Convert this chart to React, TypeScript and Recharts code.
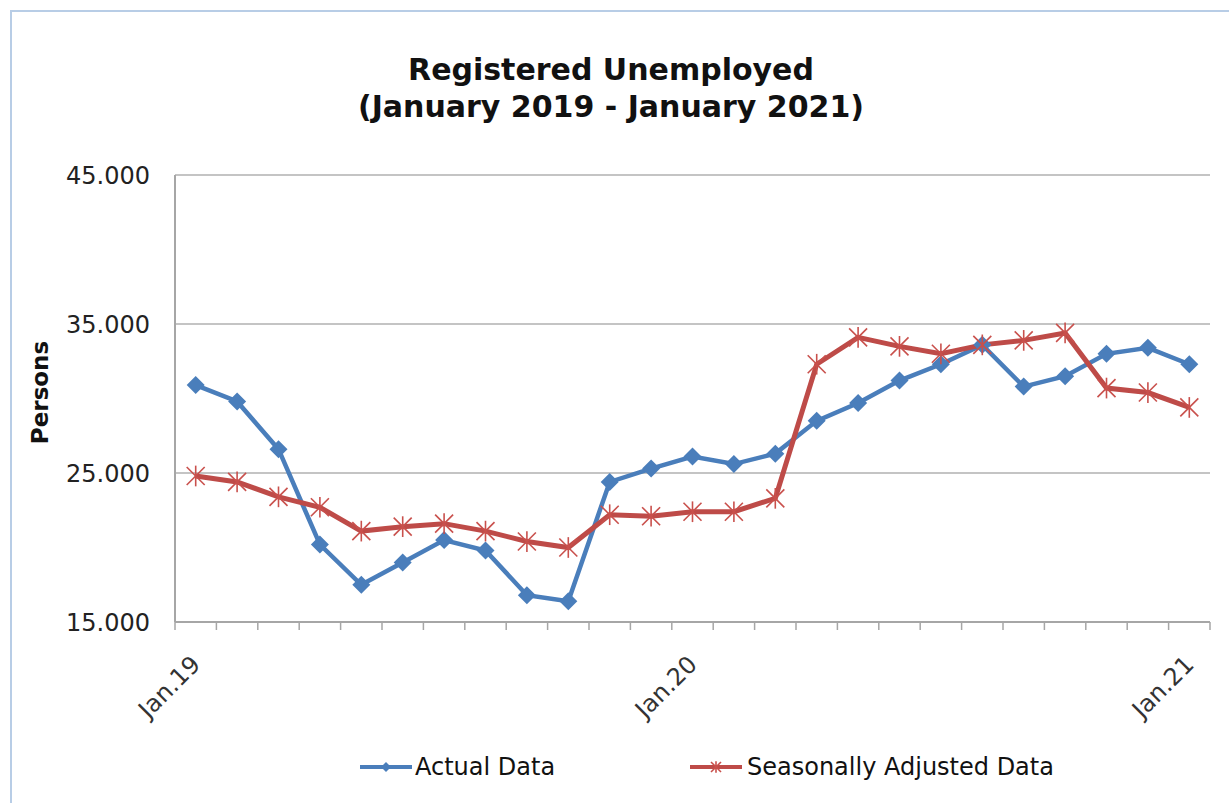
import React from 'react';
import { LineChart, Line, XAxis, YAxis, CartesianGrid, Label } from 'recharts';

const months = [
  'Jan.19', 'Feb.19', 'Mar.19', 'Apr.19', 'May.19', 'Jun.19', 'Jul.19', 'Aug.19', 'Sep.19', 'Oct.19', 'Nov.19', 'Dec.19',
  'Jan.20', 'Feb.20', 'Mar.20', 'Apr.20', 'May.20', 'Jun.20', 'Jul.20', 'Aug.20', 'Sep.20', 'Oct.20', 'Nov.20', 'Dec.20',
  'Jan.21',
];
const actualData = [
  30900, 29800, 26600, 20200, 17500, 19000, 20500, 19800, 16800, 16400, 24400, 25300,
  26100, 25600, 26300, 28500, 29700, 31200, 32300, 33600, 30800, 31500, 33000, 33400,
  32300,
];
const adjustedData = [
  24800, 24400, 23400, 22700, 21100, 21400, 21600, 21100, 20400, 20000, 22200, 22100,
  22400, 22400, 23300, 32300, 34100, 33500, 33000, 33600, 33900, 34400, 30700, 30400,
  29400,
];
const shownMonthLabels = ['Jan.19', 'Jan.20', 'Jan.21'];
const yTicks = [15000, 25000, 35000, 45000];
const seriesNames = ['Actual Data', 'Seasonally Adjusted Data'];
const titleLines = ['Registered Unemployed', '(January 2019 - January 2021)'];

const data = months.map((m, i) => ({ month: m, actual: actualData[i], adjusted: adjustedData[i] }));

const BLUE = '#4a7ebb';
const RED = '#be4b48';
const GRID = '#c4c4c4';
const AXIS = '#a6a6a6';
const FONT = '"DejaVu Sans", Verdana, sans-serif';

const fmt = (v: number) => v.toLocaleString('de-DE', { minimumFractionDigits: 0 }).replace(/,/g, '.');

const Diamond = (props: any) => {
  const { cx, cy, r = 9, fill = BLUE } = props;
  if (cx == null || cy == null) return null;
  return <polygon points={`${cx},${cy - r} ${cx + r},${cy} ${cx},${cy + r} ${cx - r},${cy}`} fill={fill} />;
};

const Star = (props: any) => {
  const { cx, cy, r = 9, stroke = '#c9504c', sw = 1.6 } = props;
  if (cx == null || cy == null) return null;
  return (
    <g stroke={stroke} strokeWidth={sw}>
      <line x1={cx - r} y1={cy - r} x2={cx + r} y2={cy + r} />
      <line x1={cx - r} y1={cy + r} x2={cx + r} y2={cy - r} />
      <line x1={cx} y1={cy - r * 1.15} x2={cx} y2={cy + r * 1.15} />
    </g>
  );
};

const XTick = (props: any) => {
  const { x, y, payload, index, width, visibleTicksCount } = props;
  const count = visibleTicksCount || months.length;
  const step = width && count ? width / count : 41.4;
  const left = x - step / 2;
  const isLast = index === count - 1;
  const show = shownMonthLabels.includes(payload.value);
  return (
    <g>
      <line x1={left} y1={y} x2={left} y2={y + 8} stroke={AXIS} strokeWidth={1.5} />
      {isLast && <line x1={x + step / 2} y1={y} x2={x + step / 2} y2={y + 8} stroke={AXIS} strokeWidth={1.5} />}
      {show && (
        <text
          x={x + 6}
          y={y + 44}
          textAnchor="end"
          transform={`rotate(-45, ${x + 6}, ${y + 44})`}
          fontFamily={FONT}
          fontSize={24}
          fill="#333"
        >
          {payload.value}
        </text>
      )}
    </g>
  );
};

export default function App() {
  return (
    <div style={{ position: 'absolute', left: 0, top: 0, width: 1229, height: 803, overflow: 'hidden', background: '#fff' }}>
      <div
        style={{
          position: 'absolute', left: 10, top: 10, width: 1300, height: 900,
          border: '2px solid #b8cde6', boxSizing: 'border-box',
        }}
      />
      <div
        style={{
          position: 'absolute', left: 0, top: 51, width: 1222, textAlign: 'center',
          fontFamily: FONT, fontWeight: 'bold', fontSize: 30, lineHeight: '37px', color: '#111',
        }}
      >
        {titleLines.map((t) => (
          <div key={t}>{t}</div>
        ))}
      </div>
      <div style={{ position: 'absolute', left: 0, top: 0 }}>
        <LineChart width={1229} height={803} data={data} margin={{ top: 175, right: 19, bottom: 121, left: 0 }}>
          <CartesianGrid vertical={false} stroke={GRID} strokeWidth={2} />
          <XAxis
            dataKey="month"
            scale="band"
            interval={0}
            height={60}
            tickLine={false}
            tickSize={0}
            tickMargin={0}
            axisLine={{ stroke: AXIS, strokeWidth: 2 }}
            tick={<XTick />}
          />
          <YAxis
            width={175}
            domain={[15000, 45000]}
            ticks={yTicks}
            interval={0}
            tickLine={false}
            tickSize={0}
            tickMargin={25}
            tickFormatter={fmt}
            axisLine={{ stroke: AXIS, strokeWidth: 2 }}
            tick={{ fontFamily: FONT, fontSize: 24, fill: '#222' }}
          >
            <Label
              content={({ viewBox }: any) => {
                const cy = viewBox.y + viewBox.height / 2 - 6;
                return (
                  <text
                    x={48}
                    y={cy}
                    textAnchor="middle"
                    transform={`rotate(-90, 48, ${cy})`}
                    fontFamily={FONT}
                    fontWeight="bold"
                    fontSize={23}
                    fill="#111"
                  >
                    Persons
                  </text>
                );
              }}
            />
          </YAxis>
          <Line
            type="linear"
            dataKey="actual"
            name={seriesNames[0]}
            stroke={BLUE}
            strokeWidth={4.5}
            isAnimationActive={false}
            dot={(p: any) => <Diamond key={`d${p.index}`} cx={p.cx} cy={p.cy} />}
            activeDot={false}
          />
          <Line
            type="linear"
            dataKey="adjusted"
            name={seriesNames[1]}
            stroke={RED}
            strokeWidth={5}
            isAnimationActive={false}
            dot={(p: any) => <Star key={`s${p.index}`} cx={p.cx} cy={p.cy} />}
            activeDot={false}
          />
        </LineChart>
      </div>
      <div style={{ position: 'absolute', left: 360, top: 752, height: 30, display: 'flex', alignItems: 'center' }}>
        <svg width={52} height={30}>
          <line x1={0} y1={15} x2={52} y2={15} stroke={BLUE} strokeWidth={4} />
          <Diamond cx={26} cy={15} r={5} />
        </svg>
        <span style={{ fontFamily: FONT, fontSize: 24, color: '#111', marginLeft: 3 }}>{seriesNames[0]}</span>
      </div>
      <div style={{ position: 'absolute', left: 690, top: 752, height: 30, display: 'flex', alignItems: 'center' }}>
        <svg width={52} height={30}>
          <line x1={0} y1={15} x2={52} y2={15} stroke={RED} strokeWidth={4} />
          <Star cx={26} cy={15} r={5} />
        </svg>
        <span style={{ fontFamily: FONT, fontSize: 24, color: '#111', marginLeft: 5 }}>{seriesNames[1]}</span>
      </div>
    </div>
  );
}
